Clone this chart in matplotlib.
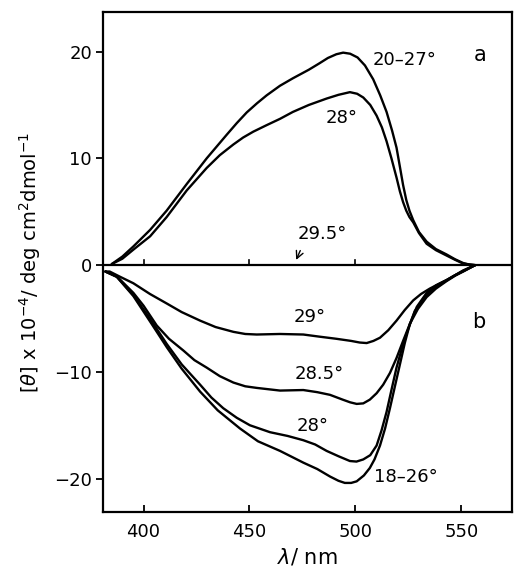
import matplotlib.pyplot as plt
import matplotlib as mpl

mpl.rcParams['font.family'] = 'DejaVu Sans'
mpl.rcParams['font.size'] = 13

# panel a (positive ellipticity)
wl_a_2027 = [385, 390, 395.2, 403.1, 410.9, 420.4, 429.8, 439.2, 444, 448.7, 453.5, 458.1,
             464.4, 470.5, 478, 483, 487, 491, 494.2, 497.5, 501, 504.5, 508.4, 511.7,
             514.7, 517.3, 519.4, 521, 522.5, 524, 525.5, 527.3, 530, 533.6, 538, 543,
             547, 550.8, 553.5, 556.5]
th_a_2027 = [0.1, 0.8, 1.75, 3.3, 5.1, 7.6, 10.0, 12.2, 13.3, 14.3, 15.15, 15.9,
             16.8, 17.5, 18.3, 18.9, 19.4, 19.75, 19.9, 19.8, 19.45, 18.7, 17.4, 15.9,
             14.35, 12.6, 11.0, 9.2, 7.5, 6.1, 5.1, 4.2, 3.1, 2.2, 1.5, 1.0,
             0.55, 0.2, 0.05, 0.0]
wl_a_28 = [385, 390, 395.2, 403.1, 410.9, 420.4, 429.8, 436, 442.4, 447, 451.8, 458, 464.4,
           470.5, 478, 486.4, 492, 497.4, 500.8, 503.7, 507, 510, 512.5, 514.7,
           517, 519.4, 521, 522.5, 524, 525.5, 527.3, 530, 533.6, 538, 543, 547, 550.8, 556.5]
th_a_28 = [0.1, 0.6, 1.45, 2.7, 4.5, 7.0, 9.1, 10.3, 11.3, 11.95, 12.5, 13.1, 13.7,
           14.35, 15.0, 15.6, 15.95, 16.2, 16.05, 15.7, 15.0, 14.0, 12.9, 11.6,
           10.0, 8.2, 6.9, 5.9, 5.1, 4.5, 4.0, 3.0, 2.0, 1.4, 0.9, 0.5, 0.15, 0.0]

# panel b (negative ellipticity)
wl_b_29 = [382, 384, 389, 395.2, 403, 411, 418, 426.7, 434, 442.4, 448, 453.4, 464.4,
           475.4, 483, 491, 498, 502, 505.3, 508.5, 511.6, 515.5, 519.4, 523.3,
           527.3, 531, 535.1, 539, 543, 547, 550.8, 556.5]
th_b_29 = [-0.6, -0.6, -1.1, -1.7, -2.7, -3.6, -4.4, -5.2, -5.8, -6.25, -6.45, -6.5, -6.45,
           -6.5, -6.7, -6.9, -7.1, -7.25, -7.3, -7.1, -6.8, -6.1, -5.2, -4.2,
           -3.3, -2.7, -2.2, -1.8, -1.4, -0.95, -0.5, 0.0]
wl_b_285 = [382, 387.4, 395.2, 400, 406.2, 412, 418.8, 424, 429.8, 436, 442.4, 448, 453.4,
            464.4, 475.4, 482, 488, 494, 497.5, 500.6, 503.7, 506.8, 510, 513.1, 516.3,
            519.4, 522.5, 525.7, 529.5, 533.6, 538, 543, 547, 550.8, 556.5]
th_b_285 = [-0.6, -1.05, -2.6, -3.8, -5.65, -6.9, -8.0, -8.9, -9.6, -10.4, -11.0, -11.35, -11.5,
            -11.75, -11.7, -11.9, -12.15, -12.6, -12.85, -13.0, -12.95, -12.6, -12.0, -11.2, -10.1,
            -8.7, -7.1, -5.5, -4.1, -3.0, -2.2, -1.5, -1.0, -0.6, 0.0]
wl_b_28 = [382, 387.4, 395.2, 403, 411, 418, 426.7, 432, 437.6, 444, 450.2, 459.7, 468, 475.4,
           481, 486.4, 492, 497.4, 500.5, 503.7, 507, 510, 512.3, 514.7, 517, 519.4,
           521.8, 524.1, 528, 533.6, 538, 543, 547, 550.8, 556.5]
th_b_28 = [-0.6, -1.1, -2.8, -5.0, -7.4, -9.3, -11.2, -12.4, -13.4, -14.3, -15.0, -15.65, -16.0, -16.4,
           -16.8, -17.4, -17.9, -18.35, -18.4, -18.2, -17.8, -16.9, -15.5, -13.75, -11.7, -9.6,
           -7.9, -6.45, -4.3, -2.8, -2.0, -1.45, -0.95, -0.6, 0.0]
wl_b_1826 = [382, 387.4, 395.2, 403.8, 411, 418, 426.7, 435, 445.5, 454, 464.4, 475.4,
             482, 488, 492, 495, 498, 500.6, 504, 506.8, 509, 511.6, 514, 516.3, 518.7,
             521, 523.3, 525.7, 529, 533.6, 538, 543, 547, 550.8, 556.5]
th_b_1826 = [-0.6, -1.1, -2.9, -5.5, -7.7, -9.7, -11.85, -13.6, -15.3, -16.5, -17.4, -18.5,
             -19.1, -19.8, -20.2, -20.4, -20.4, -20.25, -19.7, -19.0, -18.2, -16.9, -15.3, -13.4, -11.3,
             -9.3, -7.3, -5.5, -3.9, -2.6, -1.9, -1.4, -0.95, -0.55, 0.0]

xticks = [400, 450, 500, 550]
yticks = [-20, -10, 0, 10, 20]


def main():
    fig = plt.figure(figsize=(5.18, 5.75), dpi=100)
    ax = fig.add_axes([0.199, 0.110, 0.789, 0.869])
    lw = 1.7
    for wl, th in [(wl_a_2027, th_a_2027), (wl_a_28, th_a_28),
                   (wl_b_29, th_b_29), (wl_b_285, th_b_285),
                   (wl_b_28, th_b_28), (wl_b_1826, th_b_1826)]:
        ax.plot(wl, th, color='black', lw=lw, solid_joinstyle='round',
                solid_capstyle='round')

    # 29.5 deg trace lies on the zero line
    ax.axhline(0, color='black', lw=1.6)
    for x in xticks[:3]:
        ax.plot([x, x], [0, 0.5], color='black', lw=1.2)

    ax.set_xlim(380.9, 573.8)
    ax.set_ylim(-23.1, 23.7)
    ax.set_xticks(xticks)
    ax.set_yticks(yticks)
    ax.tick_params(axis='x', direction='in', length=5, width=1.3, pad=8, labelsize=13)
    ax.tick_params(axis='y', direction='out', length=5, width=1.3, pad=3, labelsize=13)
    for s in ax.spines.values():
        s.set_linewidth(1.6)

    ax.text(508.3, 19.2, '20\u201327\u00b0', ha='left', va='center', fontsize=13)
    ax.text(493.6, 13.8, '28\u00b0', ha='center', va='center', fontsize=13)
    ax.text(558.8, 19.7, 'a', ha='center', va='center', fontsize=15)
    ax.text(484.6, 2.9, '29.5\u00b0', ha='center', va='center', fontsize=13)
    ax.annotate('', xy=(471.5, 0.25), xytext=(474.5, 1.6),
                arrowprops=dict(arrowstyle='->', color='black', lw=1.0))
    ax.text(478.5, -4.9, '29\u00b0', ha='center', va='center', fontsize=13)
    ax.text(482.8, -10.2, '28.5\u00b0', ha='center', va='center', fontsize=13)
    ax.text(480.0, -15.05, '28\u00b0', ha='center', va='center', fontsize=13)
    ax.text(524.0, -19.8, '18\u201326\u00b0', ha='center', va='center', fontsize=13)
    ax.text(558.0, -5.3, 'b', ha='center', va='center', fontsize=15)

    ax.set_xlabel(r'$\lambda$/ nm', fontsize=15, labelpad=4)
    ax.set_ylabel(r'$[\theta]$ x 10$^{-4}$/ deg cm$^{2}$dmol$^{-1}$', fontsize=14, labelpad=8)

    plt.savefig('out.png', dpi=100)


if __name__ == '__main__':
    main()
